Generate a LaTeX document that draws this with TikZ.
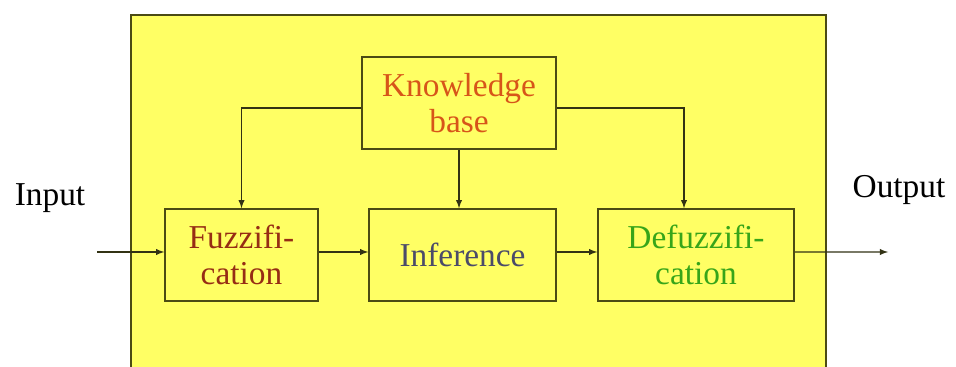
\documentclass[tikz,border=0pt]{standalone}
\usepackage{fontspec}
\setmainfont{Liberation Serif}
\usetikzlibrary{arrows}
\definecolor{panel}{RGB}{255,255,100}
\definecolor{boxline}{RGB}{75,75,20}
\definecolor{wire}{RGB}{50,50,20}
\definecolor{kbtext}{RGB}{215,85,25}
\definecolor{fuzztext}{RGB}{150,45,20}
\definecolor{inftext}{RGB}{75,75,105}
\definecolor{deftext}{RGB}{55,165,25}
\tikzset{
  block/.style={draw=boxline,line width=0.9pt,minimum height=1.84cm,align=center,
    font=\fontsize{19}{20.5}\selectfont},
  flow/.style={draw=wire,line width=0.6pt,-latex}
}
\begin{document}
\begin{tikzpicture}[x=0.02cm,y=-0.02cm]
\clip (0,0) rectangle (956,367);
\fill[white] (0,0) rectangle (956,367);
\draw[boxline,line width=0.9pt,fill=panel] (131,15) rectangle (826,380);
% blocks
\node[block,minimum width=3.88cm,text=kbtext] (kb) at (459,103) {Knowledge\\base};
\node[block,minimum width=3.06cm,text=fuzztext] (fuzz) at (241.5,255) {Fuzzifi-\\cation};
\node[block,minimum width=3.74cm,text=inftext] (infer) at (462.5,255) {Inference};
\node[block,minimum width=3.92cm,text=deftext] (defuzz) at (696,255) {Defuzzifi-\\cation};
% outside labels
\node[font=\fontsize{19}{20.5}\selectfont] (in) at (50,198) {Input};
\node[font=\fontsize{19}{20.5}\selectfont] (out) at (899,190) {Output};
\coordinate (instart) at (97,252);
\coordinate (outend) at (888,252);
% connectors
\draw[flow] (instart) -- (instart -| fuzz.west);
\draw[flow] ([yshift=0.06cm]fuzz.east) -- ([yshift=0.06cm]infer.west);
\draw[flow] ([yshift=0.06cm]infer.east) -- ([yshift=0.06cm]defuzz.west);
\draw[flow] ([yshift=0.06cm]defuzz.east) -- (outend);
\draw[flow] ([yshift=-0.1cm]kb.west) -| (fuzz.north);
\draw[flow] (kb.south) -- (kb.south |- infer.north);
\draw[flow] ([yshift=-0.1cm]kb.east) -| ([xshift=-0.24cm]defuzz.north);
\end{tikzpicture}
\end{document}
